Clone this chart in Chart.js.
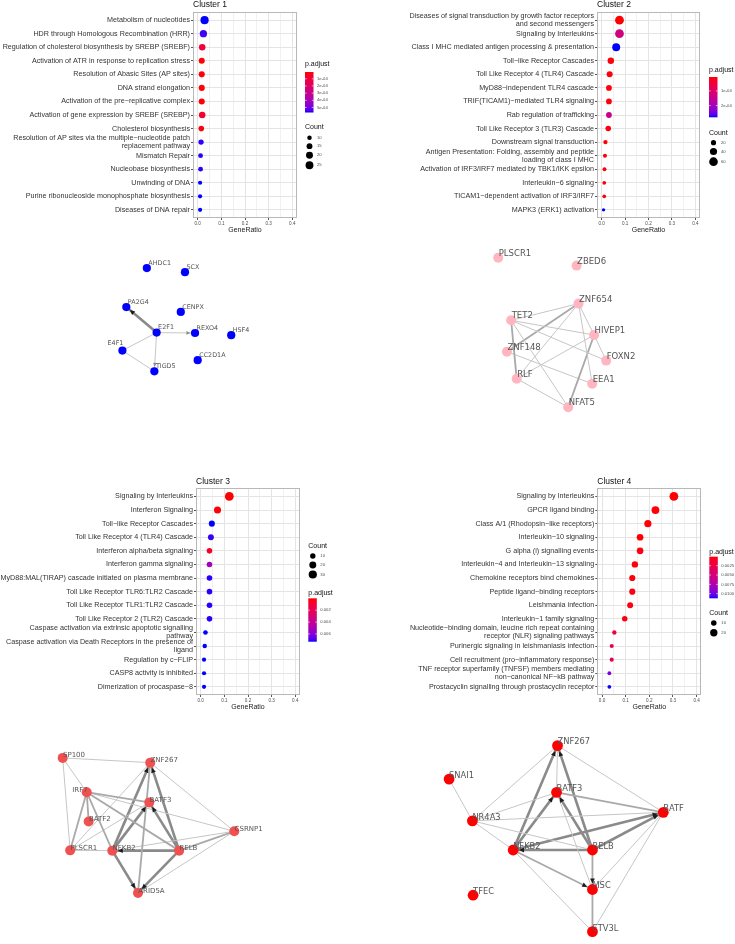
<!DOCTYPE html>
<html>
<head>
<meta charset="utf-8">
<script src="https://cdn.jsdelivr.net/npm/chart.js@4.4.1/dist/chart.umd.min.js"></script>
<style>
  html, body { margin: 0; padding: 0; background: #fff; }
  body { width: 735px; height: 944px; position: relative; overflow: hidden; }
  canvas { position: absolute; }
</style>
</head>
<body>
<canvas id="dot1" width="368" height="240" style="left:0;top:0"></canvas>
<canvas id="dot2" width="367" height="240" style="left:368px;top:0"></canvas>
<canvas id="net1" width="368" height="200" style="left:0;top:240px"></canvas>
<canvas id="net2" width="367" height="200" style="left:368px;top:240px"></canvas>
<canvas id="dot3" width="368" height="290" style="left:0;top:440px"></canvas>
<canvas id="dot4" width="367" height="290" style="left:368px;top:440px"></canvas>
<canvas id="net3" width="368" height="214" style="left:0;top:730px"></canvas>
<canvas id="net4" width="367" height="214" style="left:368px;top:730px"></canvas>
<script>
// ---------- enrichment data ----------
const ratioTicks = [0, 0.1, 0.2, 0.3, 0.4];

const c1Terms = [
  'Metabolism of nucleotides',
  'HDR through Homologous Recombination (HRR)',
  'Regulation of cholesterol biosynthesis by SREBP (SREBF)',
  'Activation of ATR in response to replication stress',
  'Resolution of Abasic Sites (AP sites)',
  'DNA strand elongation',
  'Activation of the pre−replicative complex',
  'Activation of gene expression by SREBF (SREBP)',
  'Cholesterol biosynthesis',
  ['Resolution of AP sites via the multiple−nucleotide patch', 'replacement pathway'],
  'Mismatch Repair',
  'Nucleobase biosynthesis',
  'Unwinding of DNA',
  'Purine ribonucleoside monophosphate biosynthesis',
  'Diseases of DNA repair'
];
const c1Ratio = [0.029, 0.024, 0.019, 0.017, 0.017, 0.017, 0.017, 0.019, 0.015, 0.014, 0.012, 0.012, 0.010, 0.010, 0.010];
const c1Count = [27, 22, 18, 16, 16, 16, 16, 18, 14, 13, 11, 11, 9, 9, 9];
const c1Padj = [5.7e-4, 5.5e-4, 9e-5, 1e-5, 1.5e-5, 8e-6, 1.2e-5, 8e-5, 1.5e-5, 5.6e-4, 5.6e-4, 5.6e-4, 5.7e-4, 5.7e-4, 5.7e-4];

const c2Terms = [
  ['Diseases of signal transduction by growth factor receptors', 'and second messengers'],
  'Signaling by Interleukins',
  'Class I MHC mediated antigen processing & presentation',
  'Toll−like Receptor Cascades',
  'Toll Like Receptor 4 (TLR4) Cascade',
  'MyD88−independent TLR4 cascade',
  'TRIF(TICAM1)−mediated TLR4 signaling',
  'Rab regulation of trafficking',
  'Toll Like Receptor 3 (TLR3) Cascade',
  'Downstream signal transduction',
  ['Antigen Presentation: Folding, assembly and peptide', 'loading of class I MHC'],
  'Activation of IRF3/IRF7 mediated by TBK1/IKK epsilon',
  'Interleukin−6 signaling',
  'TICAM1−dependent activation of IRF3/IRF7',
  'MAPK3 (ERK1) activation'
];
const c2Ratio = [0.076, 0.076, 0.062, 0.039, 0.034, 0.031, 0.031, 0.031, 0.028, 0.016, 0.014, 0.012, 0.011, 0.011, 0.008];
const c2Count = [62, 61, 50, 32, 28, 25, 25, 25, 23, 13, 11, 10, 9, 9, 7];
const c2Padj = [5e-6, 1.3e-4, 2.8e-4, 1e-5, 1e-5, 1e-5, 1e-5, 1.45e-4, 1e-5, 1e-5, 1e-5, 1e-5, 1e-5, 1e-5, 2.8e-4];

const c3Terms = [
  'Signaling by Interleukins',
  'Interferon Signaling',
  'Toll−like Receptor Cascades',
  'Toll Like Receptor 4 (TLR4) Cascade',
  'Interferon alpha/beta signaling',
  'Interferon gamma signaling',
  'MyD88:MAL(TIRAP) cascade initiated on plasma membrane',
  'Toll Like Receptor TLR6:TLR2 Cascade',
  'Toll Like Receptor TLR1:TLR2 Cascade',
  'Toll Like Receptor 2 (TLR2) Cascade',
  ['Caspase activation via extrinsic apoptotic signalling', 'pathway'],
  ['Caspase activation via Death Receptors in the presence of', 'ligand'],
  'Regulation by c−FLIP',
  'CASP8 activity is inhibited',
  'Dimerization of procaspase−8'
];
const c3Ratio = [0.121, 0.071, 0.047, 0.043, 0.037, 0.037, 0.037, 0.037, 0.037, 0.037, 0.020, 0.017, 0.014, 0.014, 0.014];
const c3Count = [35, 21, 14, 13, 11, 11, 11, 11, 11, 11, 6, 5, 4, 4, 4];
const c3Padj = [0.00002, 0.0001, 0.0073, 0.0071, 0.0007, 0.0052, 0.0072, 0.0072, 0.0072, 0.0072, 0.0073, 0.0073, 0.0073, 0.0073, 0.0073];

const c4Terms = [
  'Signaling by Interleukins',
  'GPCR ligand binding',
  'Class A/1 (Rhodopsin−like receptors)',
  'Interleukin−10 signaling',
  'G alpha (i) signalling events',
  'Interleukin−4 and Interleukin−13 signaling',
  'Chemokine receptors bind chemokines',
  'Peptide ligand−binding receptors',
  'Leishmania infection',
  'Interleukin−1 family signaling',
  ['Nucleotide−binding domain, leucine rich repeat containing', 'receptor (NLR) signaling pathways'],
  'Purinergic signaling in leishmaniasis infection',
  'Cell recruitment (pro−inflammatory response)',
  ['TNF receptor superfamily (TNFSF) members mediating', 'non−canonical NF−kB pathway'],
  'Prostacyclin signalling through prostacyclin receptor'
];
const c4Ratio = [0.304, 0.226, 0.194, 0.161, 0.161, 0.139, 0.128, 0.128, 0.119, 0.096, 0.052, 0.041, 0.041, 0.031, 0.031];
const c4Count = [30, 23, 19, 16, 16, 14, 13, 13, 12, 10, 5, 4, 4, 3, 3];
const c4Padj = [0.0001, 0.0002, 0.0002, 0.0001, 0.0004, 0.0002, 0.0003, 0.0004, 0.0004, 0.0004, 0.0022, 0.0026, 0.0026, 0.0095, 0.0112];

// ---------- gene networks (layout coordinates inside each panel) ----------
const n1Genes = ['AHDC1', 'SCX', 'PA2G4', 'CENPX', 'E2F1', 'REXO4', 'HSF4', 'E4F1', 'CC2D1A', 'TIGD5'];
const n1X = [146, 185, 125, 180.7, 156, 195.3, 232.3, 121, 198, 153.7];
const n1Y = [25, 29.3, 65.7, 70.7, 92.3, 92.7, 95, 111, 121, 132.7];
const n1Edges = [
  ['E2F1', 'PA2G4', 3, 1], ['E2F1', 'REXO4', 1, 1], ['E2F1', 'TIGD5', 1, 1],
  ['E4F1', 'E2F1', 1, 0], ['E4F1', 'TIGD5', 1, 0]
];

const n2Genes = ['PLSCR1', 'ZBED6', 'ZNF654', 'TET2', 'HIVEP1', 'ZNF148', 'FOXN2', 'RLF', 'EEA1', 'NFAT5'];
const n2X = [128.7, 209.3, 211.3, 142, 227.3, 137.7, 239.7, 147.7, 225.3, 200.7];
const n2Y = [13.3, 21.7, 61.7, 79.3, 94.7, 112.3, 121.7, 140.7, 146, 170.7];
const n2Edges = [
  ['TET2', 'ZNF654', 1, 0], ['TET2', 'HIVEP1', 1, 0], ['TET2', 'FOXN2', 1, 0], ['TET2', 'RLF', 2, 0],
  ['TET2', 'NFAT5', 1, 0], ['ZNF654', 'ZNF148', 2, 0], ['ZNF654', 'RLF', 1, 0], ['ZNF654', 'HIVEP1', 1, 0],
  ['ZNF654', 'EEA1', 1, 0], ['HIVEP1', 'FOXN2', 1, 0], ['HIVEP1', 'RLF', 1, 0], ['HIVEP1', 'NFAT5', 2, 0],
  ['ZNF148', 'EEA1', 1, 0], ['RLF', 'NFAT5', 1, 0]
];

const n3Genes = ['SP100', 'ZNF267', 'IRF7', 'BATF3', 'BATF2', 'CSRNP1', 'PLSCR1', 'NFKB2', 'RELB', 'ARID5A'];
const n3X = [59.3, 149.3, 84, 148.3, 86, 235.7, 67, 110.3, 179, 136.7];
const n3Y = [24, 29, 60, 70.7, 90.7, 101, 121, 121.3, 121.3, 165.7];
const n3Edges = [
  ['SP100', 'ZNF267', 1, 0], ['SP100', 'IRF7', 1, 0], ['SP100', 'PLSCR1', 1, 0], ['ZNF267', 'CSRNP1', 1, 0],
  ['IRF7', 'BATF3', 2, 0], ['IRF7', 'BATF2', 2, 0], ['IRF7', 'PLSCR1', 2, 0], ['IRF7', 'NFKB2', 2, 0],
  ['IRF7', 'RELB', 2, 0], ['IRF7', 'CSRNP1', 1, 0], ['PLSCR1', 'NFKB2', 1, 0], ['PLSCR1', 'ZNF267', 1, 0],
  ['PLSCR1', 'BATF3', 1, 0], ['ZNF267', 'ARID5A', 2, 0], ['RELB', 'CSRNP1', 2, 0], ['NFKB2', 'CSRNP1', 1, 0],
  ['ARID5A', 'CSRNP1', 1, 0],
  ['NFKB2', 'ZNF267', 3, 1], ['NFKB2', 'BATF3', 3, 1], ['NFKB2', 'ARID5A', 3, 1], ['RELB', 'NFKB2', 3, 1],
  ['RELB', 'ZNF267', 3, 1], ['RELB', 'BATF3', 3, 1], ['RELB', 'ARID5A', 3, 1]
];

const n4Genes = ['ZNF267', 'SNAI1', 'BATF3', 'BATF', 'NR4A3', 'NFKB2', 'RELB', 'MSC', 'TFEC', 'ETV3L'];
const n4X = [189.7, 78, 188.7, 298.7, 102, 144, 225.7, 225.7, 102.7, 225.7];
const n4Y = [10.7, 46, 60, 81, 90, 120.7, 120.7, 162.3, 168.3, 206.7];
const n4Edges = [
  ['SNAI1', 'NR4A3', 1, 0], ['NR4A3', 'ZNF267', 1, 0], ['NR4A3', 'BATF3', 1, 0], ['NR4A3', 'BATF', 1, 0],
  ['NR4A3', 'NFKB2', 1, 0], ['NR4A3', 'RELB', 1, 0], ['ZNF267', 'BATF3', 1, 0], ['ZNF267', 'BATF', 1, 0],
  ['NFKB2', 'ETV3L', 1, 0], ['BATF3', 'BATF', 2, 0], ['BATF3', 'MSC', 1, 0], ['BATF', 'MSC', 1, 0],
  ['BATF', 'ETV3L', 1, 0], ['MSC', 'ETV3L', 2, 0],
  ['NFKB2', 'ZNF267', 3, 1], ['NFKB2', 'BATF3', 3, 1], ['NFKB2', 'BATF', 3, 1], ['NFKB2', 'MSC', 2, 1],
  ['RELB', 'ZNF267', 3, 1], ['RELB', 'BATF3', 3, 1], ['RELB', 'NFKB2', 3, 1], ['RELB', 'BATF', 3, 1],
  ['RELB', 'MSC', 2, 1]
];

// ---------- colour ramp red -> blue, interpolated in Lab like ggplot ----------
function hexToRgb(h) { return [1, 3, 5].map(i => parseInt(h.slice(i, i + 2), 16)); }
function rgbToLab(rgb) {
  const lin = c => { c /= 255; return c <= 0.04045 ? c / 12.92 : Math.pow((c + 0.055) / 1.055, 2.4); };
  const [R, G, B] = rgb.map(lin);
  const X = (0.4124 * R + 0.3576 * G + 0.1805 * B) / 0.95047;
  const Y = 0.2126 * R + 0.7152 * G + 0.0722 * B;
  const Z = (0.0193 * R + 0.1192 * G + 0.9505 * B) / 1.08883;
  const f = t => t > 0.008856 ? Math.cbrt(t) : 7.787 * t + 16 / 116;
  return [116 * f(Y) - 16, 500 * (f(X) - f(Y)), 200 * (f(Y) - f(Z))];
}
function labToRgb(lab) {
  const fy = (lab[0] + 16) / 116, fx = fy + lab[1] / 500, fz = fy - lab[2] / 200;
  const inv = t => t * t * t > 0.008856 ? t * t * t : (t - 16 / 116) / 7.787;
  const X = inv(fx) * 0.95047, Y = inv(fy), Z = inv(fz) * 1.08883;
  const R = 3.2406 * X - 1.5372 * Y - 0.4986 * Z;
  const G = -0.9689 * X + 1.8758 * Y + 0.0415 * Z;
  const B = 0.0557 * X - 0.2040 * Y + 1.0570 * Z;
  const g = c => {
    c = c <= 0.0031308 ? 12.92 * c : 1.055 * Math.pow(c, 1 / 2.4) - 0.055;
    return Math.round(Math.max(0, Math.min(1, c)) * 255);
  };
  return 'rgb(' + g(R) + ',' + g(G) + ',' + g(B) + ')';
}
const LOW = rgbToLab(hexToRgb('#ff0000'));
const HIGH = rgbToLab(hexToRgb('#0000ff'));
function rampColor(t) {
  t = Math.max(0, Math.min(1, t));
  return labToRgb(LOW.map((v, i) => v + (HIGH[i] - v) * t));
}

const SANS = '"Liberation Sans", Arial, sans-serif';
const NETFONT = '"DejaVu Sans", sans-serif';

// ---------- dot plots ----------
function panelPlugin(p, radius) {
  return {
    id: 'panelDecor',
    afterDraw(chart) {
      const ctx = chart.ctx, a = chart.chartArea, L = p.legend;
      ctx.save();
      ctx.strokeStyle = '#b8b8b8';
      ctx.lineWidth = 1;
      ctx.strokeRect(Math.round(a.left) + 0.5, Math.round(a.top) + 0.5,
        Math.round(a.right - a.left) - 1, Math.round(a.bottom - a.top) - 1);

      ctx.fillStyle = '#111';
      ctx.textAlign = 'left';
      ctx.textBaseline = 'middle';
      ctx.font = '8.5px ' + SANS;
      ctx.fillText(p.title, a.left, a.top - 7);

      // p.adjust colour bar
      ctx.font = '7px ' + SANS;
      ctx.fillStyle = '#111';
      ctx.fillText('p.adjust', L.x, L.pTitleY);
      const grad = ctx.createLinearGradient(0, L.barTop, 0, L.barBottom);
      for (let i = 0; i <= 20; i++) grad.addColorStop(i / 20, rampColor(i / 20));
      ctx.fillStyle = grad;
      ctx.fillRect(L.x, L.barTop, 8.5, L.barBottom - L.barTop);
      ctx.font = '4.2px ' + SANS;
      L.pTicks.forEach((v, i) => {
        const y = L.barTop + (v - p.pRange[0]) / (p.pRange[1] - p.pRange[0]) * (L.barBottom - L.barTop);
        ctx.strokeStyle = '#fff';
        ctx.lineWidth = 0.6;
        ctx.beginPath();
        ctx.moveTo(L.x, y); ctx.lineTo(L.x + 1.7, y);
        ctx.moveTo(L.x + 6.8, y); ctx.lineTo(L.x + 8.5, y);
        ctx.stroke();
        ctx.fillStyle = '#4d4d4d';
        ctx.fillText(L.pLabels[i], L.x + 12, y);
      });

      // Count size keys
      ctx.font = '7px ' + SANS;
      ctx.fillStyle = '#111';
      ctx.fillText('Count', L.x, L.countTitleY);
      L.countVals.forEach((c, i) => {
        ctx.fillStyle = '#000';
        ctx.beginPath();
        ctx.arc(L.x + 4.5, L.countYs[i], radius(c), 0, Math.PI * 2);
        ctx.fill();
        ctx.fillStyle = '#4d4d4d';
        ctx.font = '4.2px ' + SANS;
        ctx.fillText(String(c), L.x + 12, L.countYs[i]);
      });
      ctx.restore();
    }
  };
}

function dotPlot(id, p) {
  const canvas = document.getElementById(id);
  const W = canvas.width, H = canvas.height;
  const cMin = Math.min(...p.count), cMax = Math.max(...p.count);
  const r0 = p.rRange[0], r1 = p.rRange[1];
  const radius = c => Math.sqrt(r0 * r0 + (r1 * r1 - r0 * r0) * (c - cMin) / (cMax - cMin));
  const color = v => rampColor((v - p.pRange[0]) / (p.pRange[1] - p.pRange[0]));
  const xAll = [];
  ratioTicks.forEach((t, i) => {
    xAll.push(t);
    if (i < ratioTicks.length - 1) xAll.push((t + ratioTicks[i + 1]) / 2);
  });
  const isMajor = v => ratioTicks.some(t => Math.abs(t - v) < 1e-9);
  const axisH = 16.2;

  new Chart(canvas, {
    type: 'bubble',
    data: {
      datasets: [{
        data: p.ratio.map((x, i) => ({ x: x, y: i, r: radius(p.count[i]) })),
        backgroundColor: p.padj.map(color),
        borderWidth: 0,
        clip: false
      }]
    },
    options: {
      responsive: false,
      animation: false,
      events: [],
      layout: {
        padding: { top: p.area.top, right: W - p.area.right, bottom: H - p.area.bottom - axisH, left: 0 }
      },
      scales: {
        x: {
          type: 'linear',
          min: -0.02,
          max: 0.42,
          afterBuildTicks: s => { s.ticks = xAll.map(v => ({ value: v })); },
          afterFit: s => { s.height = axisH; },
          ticks: {
            autoSkip: false,
            maxRotation: 0,
            padding: 0.5,
            color: '#4d4d4d',
            font: { family: SANS, size: 4.6 },
            callback: v => isMajor(v) ? v.toFixed(1) : ''
          },
          grid: {
            color: c => (c.tick && isMajor(c.tick.value)) ? '#e4e4e4' : '#f1f1f1',
            tickColor: c => (c.tick && isMajor(c.tick.value)) ? '#555' : 'rgba(0,0,0,0)',
            tickLength: 2
          },
          border: { display: false },
          title: {
            display: true,
            text: 'GeneRatio',
            color: '#1a1a1a',
            padding: 0,
            font: { family: SANS, size: 7 }
          }
        },
        y: {
          type: 'linear',
          reverse: true,
          min: -0.6,
          max: p.terms.length - 0.4,
          afterBuildTicks: s => { s.ticks = p.terms.map((t, i) => ({ value: i })); },
          afterFit: s => { s.width = p.area.left; },
          ticks: {
            autoSkip: false,
            padding: 1,
            color: '#333',
            font: { family: SANS, size: 7.2, lineHeight: 1.12 },
            callback: v => p.terms[v]
          },
          grid: { color: '#e4e4e4', tickColor: '#555', tickLength: 2 },
          border: { display: false }
        }
      },
      plugins: { legend: { display: false }, tooltip: { enabled: false } }
    },
    plugins: [panelPlugin(p, radius)]
  });
}

dotPlot('dot1', {
  title: 'Cluster 1', terms: c1Terms, ratio: c1Ratio, count: c1Count, padj: c1Padj,
  pRange: [5e-6, 5.7e-4], rRange: [2.1, 4.1],
  area: { left: 193, right: 297, top: 12, bottom: 218 },
  legend: {
    x: 305, pTitleY: 64.5, barTop: 72, barBottom: 112.5,
    pTicks: [1e-4, 2e-4, 3e-4, 4e-4, 5e-4], pLabels: ['1e-04', '2e-04', '3e-04', '4e-04', '5e-04'],
    countTitleY: 127.5, countVals: [10, 15, 20, 25], countYs: [137.7, 146.2, 155.2, 165.3]
  }
});

dotPlot('dot2', {
  title: 'Cluster 2', terms: c2Terms, ratio: c2Ratio, count: c2Count, padj: c2Padj,
  pRange: [5e-6, 2.8e-4], rRange: [1.7, 4.4],
  area: { left: 229, right: 332, top: 12, bottom: 218 },
  legend: {
    x: 341, pTitleY: 70, barTop: 77, barBottom: 117.3,
    pTicks: [1e-4, 2e-4], pLabels: ['1e-04', '2e-04'],
    countTitleY: 132.7, countVals: [20, 40, 60], countYs: [142.7, 151.5, 161.7]
  }
});

dotPlot('dot3', {
  title: 'Cluster 3', terms: c3Terms, ratio: c3Ratio, count: c3Count, padj: c3Padj,
  pRange: [0, 0.0073], rRange: [2.1, 4.4],
  area: { left: 196, right: 300, top: 48.3, bottom: 255 },
  legend: {
    x: 308.3, countTitleY: 106, countVals: [10, 20, 30], countYs: [116, 125, 134.5],
    pTitleY: 152.7, barTop: 158.3, barBottom: 201.7,
    pTicks: [0.002, 0.004, 0.006], pLabels: ['0.002', '0.004', '0.006']
  }
});

dotPlot('dot4', {
  title: 'Cluster 4', terms: c4Terms, ratio: c4Ratio, count: c4Count, padj: c4Padj,
  pRange: [0.00009, 0.01124], rRange: [1.9, 4.4],
  area: { left: 229.3, right: 333.3, top: 48.3, bottom: 255 },
  legend: {
    x: 341.3, pTitleY: 111.7, barTop: 116.7, barBottom: 158.3,
    pTicks: [0.0025, 0.005, 0.0075, 0.01], pLabels: ['0.0025', '0.0050', '0.0075', '0.0100'],
    countTitleY: 173.3, countVals: [10, 20], countYs: [183, 192.7]
  }
});

// ---------- networks ----------
const edgeStyle = {
  1: { color: '#c6c6c6', width: 1 },
  2: { color: '#a9a9a9', width: 1.8 },
  3: { color: '#8a8a8a', width: 2.6 }
};

function netPlugin(n, pos) {
  return {
    id: 'netDecor',
    beforeDatasetDraw(chart, args) {
      if (args.index !== 0) return;
      const ctx = chart.ctx, sx = chart.scales.x, sy = chart.scales.y;
      ctx.save();
      n.edges.forEach(([a, b, w, directed]) => {
        if (!directed) return;
        const x0 = sx.getPixelForValue(pos(a).x), y0 = sy.getPixelForValue(pos(a).y);
        const x1 = sx.getPixelForValue(pos(b).x), y1 = sy.getPixelForValue(pos(b).y);
        const d = Math.hypot(x1 - x0, y1 - y0), ux = (x1 - x0) / d, uy = (y1 - y0) / d;
        const tipX = x1 - ux * (n.r + 0.5), tipY = y1 - uy * (n.r + 0.5);
        const len = w >= 2 ? 5 : 4, half = w >= 2 ? 2.4 : 1.9;
        const bx = tipX - ux * len, by = tipY - uy * len;
        ctx.fillStyle = w >= 2 ? '#1c1c1c' : '#8c8c8c';
        ctx.beginPath();
        ctx.moveTo(tipX, tipY);
        ctx.lineTo(bx - uy * half, by + ux * half);
        ctx.lineTo(bx + uy * half, by - ux * half);
        ctx.closePath();
        ctx.fill();
      });
      ctx.restore();
    },
    afterDatasetsDraw(chart) {
      const ctx = chart.ctx, sx = chart.scales.x, sy = chart.scales.y;
      ctx.save();
      ctx.font = n.fontSize + 'px ' + NETFONT;
      ctx.fillStyle = '#555';
      ctx.textBaseline = 'middle';
      n.genes.forEach(g => {
        const px = sx.getPixelForValue(pos(g).x), py = sy.getPixelForValue(pos(g).y);
        if (n.leftLabels.includes(g)) {
          ctx.textAlign = 'right';
          ctx.fillText(g, px + 1, py + n.leftDy);
        } else {
          ctx.textAlign = 'left';
          ctx.fillText(g, px + n.dx, py + n.dy);
        }
      });
      ctx.restore();
    }
  };
}

function network(id, n) {
  const canvas = document.getElementById(id);
  const pos = g => { const i = n.genes.indexOf(g); return { x: n.x[i], y: n.y[i] }; };
  const edgeSets = n.edges.map(([a, b, w]) => ({
    data: [pos(a), pos(b)],
    showLine: true,
    pointRadius: 0,
    borderColor: edgeStyle[w].color,
    borderWidth: edgeStyle[w].width,
    order: 1,
    clip: false
  }));
  new Chart(canvas, {
    type: 'scatter',
    data: {
      datasets: [{
        data: n.genes.map(pos),
        pointRadius: n.r,
        backgroundColor: n.color,
        borderColor: n.color,
        borderWidth: 0,
        order: 0,
        clip: false
      }].concat(edgeSets)
    },
    options: {
      responsive: false,
      animation: false,
      events: [],
      layout: { padding: 0 },
      scales: {
        x: { type: 'linear', display: false, min: 0, max: canvas.width },
        y: { type: 'linear', display: false, min: 0, max: canvas.height, reverse: true }
      },
      plugins: { legend: { display: false }, tooltip: { enabled: false } }
    },
    plugins: [netPlugin(n, pos)]
  });
}

network('net1', {
  genes: n1Genes, x: n1X, y: n1Y, edges: n1Edges,
  r: 4.1, color: '#0000ff', fontSize: 6.4, dx: 1.5, dy: -4.8,
  leftLabels: ['E4F1'], leftDy: -7.7
});
network('net2', {
  genes: n2Genes, x: n2X, y: n2Y, edges: n2Edges,
  r: 5, color: '#ffb6c1', fontSize: 8.5, dx: 0.5, dy: -4.3,
  leftLabels: [], leftDy: 0
});
network('net3', {
  genes: n3Genes, x: n3X, y: n3Y, edges: n3Edges,
  r: 5, color: '#f05050', fontSize: 7, dx: 0.3, dy: -2.2,
  leftLabels: ['IRF7'], leftDy: -2.3
});
network('net4', {
  genes: n4Genes, x: n4X, y: n4Y, edges: n4Edges,
  r: 5.4, color: '#ff0000', fontSize: 8.3, dx: 0, dy: -3.3,
  leftLabels: [], leftDy: 0
});
</script>
</body>
</html>
